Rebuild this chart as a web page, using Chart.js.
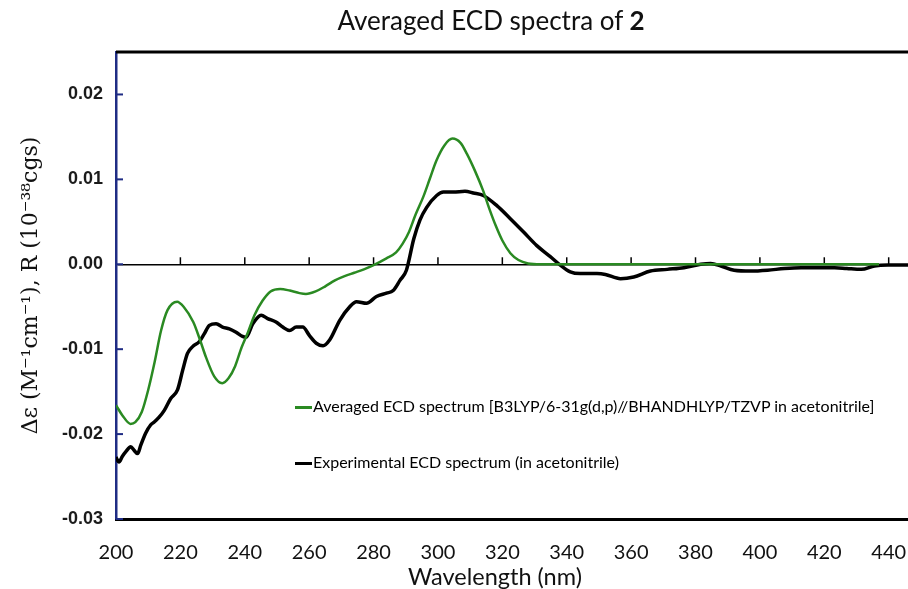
<!DOCTYPE html>
<html>
<head>
<meta charset="utf-8">
<script src="https://cdn.jsdelivr.net/npm/chart.js@4/dist/chart.umd.min.js"></script>
<style>
  html,body{margin:0;padding:0;background:#fff;overflow:hidden;}
  #wrap{position:relative;width:908px;height:589px;}
  #title{position:absolute;left:241px;width:500px;top:4px;text-align:center;font:26px Lato,sans-serif;color:#111;}
  #xtitle{position:absolute;left:245px;width:500px;top:562px;text-align:center;font:23.5px Lato,sans-serif;color:#111;}
  #legend{position:absolute;left:295px;top:395px;font:16px Lato,sans-serif;color:#000;}
  #legend div{height:22px;line-height:22px;margin-bottom:34px;white-space:nowrap;}
  #legend span.sw{display:inline-block;width:17px;height:3px;vertical-align:middle;margin-right:1px;}
</style>
</head>
<body>
<div id="wrap">
  <canvas id="chart" width="908" height="589"></canvas>
  <div id="title">Averaged ECD spectra of <b>2</b></div>
  <div id="xtitle">Wavelength (nm)</div>
  <div id="legend"></div>
</div>
<script>
// calculated (averaged) spectrum
const calcWl = [200,202,204.5,206,208,210,212,214,216,219,221,224,226,228,230.5,233,235,237,239,241,243,245.5,248,251,254,257,259,262,265,268,271,274,277,280,284,287,289,291,293,295.5,297.5,299.5,302,304.5,307,309,311.5,314,316,318,320,322.5,325,328,332,340,360,380,400,420,437];
const calcVal = [-0.0166,-0.0178,-0.0188,-0.0186,-0.0174,-0.0148,-0.0115,-0.0078,-0.0054,-0.0044,-0.0050,-0.0068,-0.0088,-0.0110,-0.0132,-0.0140,-0.0134,-0.0120,-0.0098,-0.0080,-0.0060,-0.0043,-0.0032,-0.0029,-0.0031,-0.0034,-0.0035,-0.0032,-0.0026,-0.0019,-0.0014,-0.0010,-0.0006,-0.0001,0.0007,0.0014,0.0024,0.0038,0.0058,0.0080,0.0101,0.0122,0.0140,0.0148,0.0143,0.0130,0.0110,0.0087,0.0065,0.0045,0.0028,0.0013,0.0005,0.0001,0,0,0,0,0,0,0];

// experimental spectrum
const expWl = [200,200.9,202,203,204.6,205.6,206.7,207.7,209.2,210.8,211.8,213.4,215,217,219.1,220.7,222.2,223.8,225.9,227.4,229,231.1,233.1,235.2,237.3,239.3,240.4,242.5,245.1,247.1,249.7,251.8,253.9,256,258,260.1,262.2,264.3,266.4,269.5,272.6,274.7,277.8,280.9,284,286.1,288.2,290.2,292.5,294.4,296.5,299.6,301.7,304.8,308.4,311,314.1,318.3,322.4,326.6,330.7,334.9,338,341.1,344.2,349.4,352,356.7,360.8,366,371.2,376.4,381.6,384.7,387.9,392,397.2,402.4,407.6,412.8,418,423.2,427,431.5,435.6,439.8,446];
const expVal = [-0.0227,-0.0233,-0.0226,-0.0221,-0.0215,-0.0219,-0.0223,-0.0213,-0.0199,-0.0189,-0.0186,-0.0180,-0.0172,-0.0158,-0.0148,-0.0125,-0.0105,-0.0097,-0.0091,-0.0082,-0.0072,-0.0070,-0.0074,-0.0076,-0.0080,-0.0085,-0.0086,-0.0070,-0.0060,-0.0064,-0.0068,-0.0074,-0.0078,-0.0074,-0.0074,-0.0084,-0.0093,-0.0096,-0.0089,-0.0066,-0.0050,-0.0044,-0.0046,-0.0038,-0.0034,-0.0031,-0.0019,-0.0007,0.0030,0.0052,0.0067,0.0081,0.0085,0.0085,0.0086,0.0084,0.0081,0.0069,0.0054,0.0038,0.0022,0.0009,-0.0001,-0.0009,-0.0011,-0.0011,-0.0012,-0.0017,-0.0015,-0.0008,-0.0006,-0.0004,0.0000,0.0001,-0.0002,-0.0007,-0.0008,-0.0007,-0.0005,-0.0004,-0.0004,-0.0004,-0.0005,-0.0006,-0.0002,-0.0001,-0.0001];

const labels = [
  'Averaged ECD spectrum [B3LYP/6-31g(d,p)//BHANDHLYP/TZVP in acetonitrile]',
  'Experimental ECD spectrum (in acetonitrile)'
];
const colors = ['#2a8a22','#000000'];
const yTitle = 'Δε (M⁻¹cm⁻¹), R (10⁻³⁸cgs)';

const pts = (xs, ys) => xs.map((x, i) => ({x: x, y: ys[i]}));

// frame + inward ticks (y axis) and ticks sitting on the zero line
const frame = {
  id: 'frame',
  beforeDatasetsDraw(chart){
    const {ctx, chartArea: a, scales: {x, y}} = chart;
    ctx.save();
    const y0 = y.getPixelForValue(0);
    ctx.strokeStyle = '#000'; ctx.lineWidth = 1.5;
    x.ticks.forEach(t => {
      const px = x.getPixelForValue(t.value);
      if (px <= a.left + 1) return;
      ctx.beginPath(); ctx.moveTo(px, y0); ctx.lineTo(px, y0 - 7); ctx.stroke();
    });
    ctx.strokeStyle = '#1f2c84'; ctx.lineWidth = 2;
    y.ticks.forEach(t => {
      const py = y.getPixelForValue(t.value);
      ctx.beginPath(); ctx.moveTo(a.left, py); ctx.lineTo(a.left + 7, py); ctx.stroke();
    });
    ctx.strokeStyle = '#000'; ctx.lineWidth = 3;
    ctx.beginPath(); ctx.moveTo(a.left, a.top); ctx.lineTo(a.right, a.top); ctx.stroke();
    ctx.restore();
  }
};

new Chart(document.getElementById('chart'), {
  type: 'line',
  data: {
    datasets: [
      {label: labels[0], data: pts(calcWl, calcVal), borderColor: colors[0], borderWidth: 2.5,
       pointRadius: 0, fill: false, cubicInterpolationMode: 'monotone'},
      {label: labels[1], data: pts(expWl, expVal), borderColor: colors[1], borderWidth: 3.5,
       pointRadius: 0, fill: false, cubicInterpolationMode: 'monotone', borderJoinStyle: 'round'}
    ]
  },
  options: {
    responsive: false,
    animation: false,
    layout: {padding: {top: 52, right: 0, left: 0, bottom: 0}},
    plugins: {legend: {display: false}, tooltip: {enabled: false}},
    scales: {
      x: {
        type: 'linear', min: 200, max: 446,
        ticks: {stepSize: 20, includeBounds: false, padding: 14, color: '#111',
                font: {family: 'Lato', size: 20}, maxRotation: 0},
        grid: {display: false},
        border: {color: '#000', width: 3},
        afterFit: s => { s.height = 70; s.paddingRight = 0; s.paddingLeft = 0; }
      },
      y: {
        min: -0.03, max: 0.025,
        ticks: {stepSize: 0.01, includeBounds: false, padding: 13, color: '#1a1a1a',
                font: {family: 'Liberation Sans', size: 18, weight: 'bold'},
                callback: v => (Math.abs(v) < 1e-9 ? 0 : v).toFixed(2)},
        grid: {drawTicks: false, lineWidth: 1.5,
               color: c => (c.tick && Math.abs(c.tick.value) < 1e-9) ? '#000' : 'rgba(0,0,0,0)'},
        border: {color: '#1f2c84', width: 2.5},
        title: {display: true, text: yTitle, color: '#111',
                font: {family: 'DejaVu Serif', size: 22}, padding: {top: 18, bottom: 0}},
        afterFit: s => { s.width = 116; }
      }
    }
  },
  plugins: [frame]
});

// legend as html, built from the dataset labels
const lg = document.getElementById('legend');
labels.forEach((l, i) => {
  const d = document.createElement('div');
  d.innerHTML = '<span class="sw" style="background:' + colors[i] + '"></span>' + l;
  lg.appendChild(d);
});
</script>
</body>
</html>
